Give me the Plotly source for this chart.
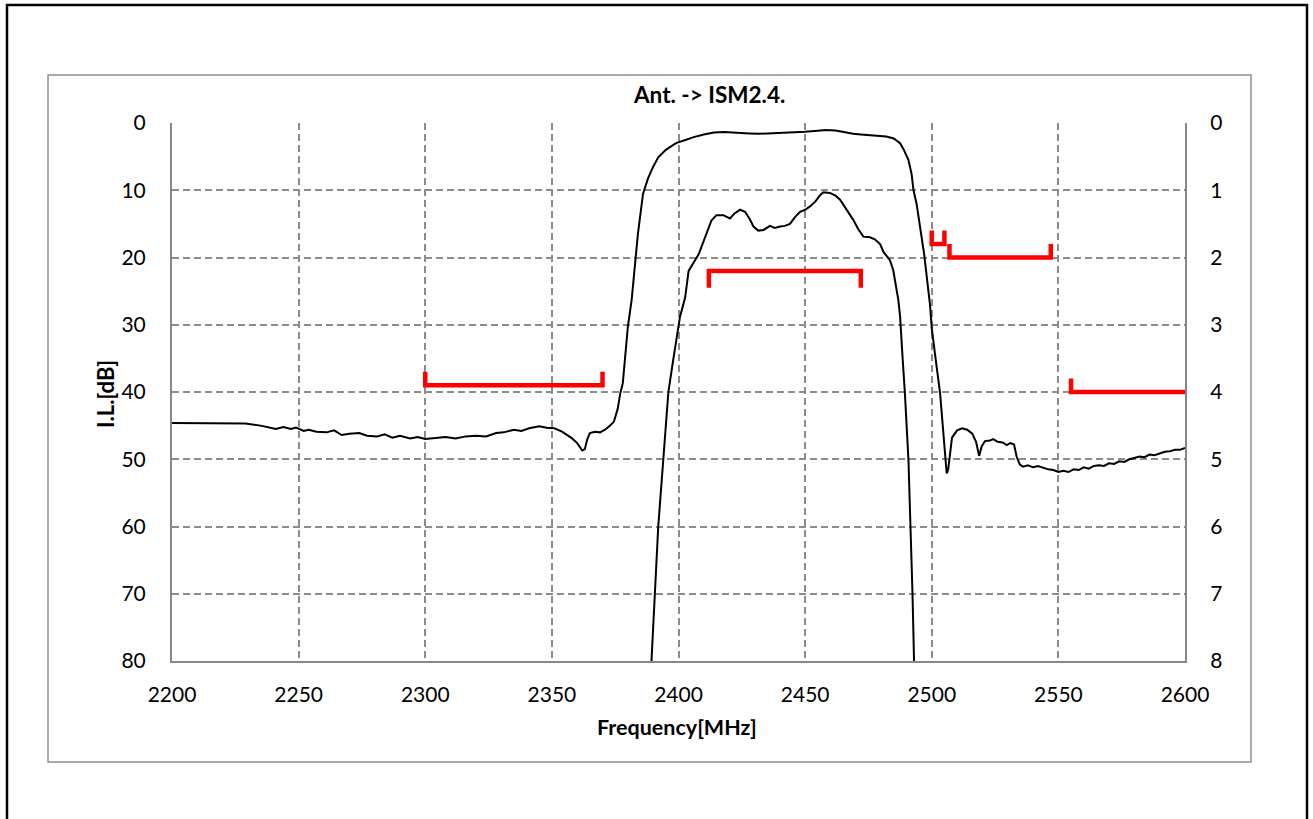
import plotly.graph_objects as go

# ---------------- data ----------------
# Curve 1 (left axis, attenuation [dB])
freq1 = [2200, 2210, 2220, 2229, 2235, 2241, 2244, 2247, 2249, 2252, 2254, 2257, 2261, 2264, 2267,
         2270, 2274, 2277, 2281, 2284, 2287, 2290, 2294, 2297, 2300, 2304, 2308, 2312, 2316, 2320,
         2324, 2328, 2331, 2335, 2338, 2341, 2345, 2348, 2351, 2354, 2356, 2358, 2360, 2362, 2363,
         2364, 2365, 2367, 2369, 2371, 2373, 2374.5, 2376, 2377, 2378, 2380, 2381.5, 2383, 2384,
         2386, 2388, 2390, 2392, 2395, 2399, 2403, 2406, 2410, 2414, 2418, 2423, 2428, 2432, 2436,
         2440, 2445, 2450, 2455, 2458, 2462, 2466, 2469, 2472, 2477, 2482, 2485, 2487.5, 2489,
         2490.8, 2492, 2492.8, 2494, 2496, 2497, 2499.3, 2500, 2501.5, 2503.3, 2505, 2505.9, 2506.5,
         2507.2, 2508, 2510, 2512, 2514, 2516, 2517.5, 2518.7, 2519.7, 2521, 2523, 2524.3, 2526,
         2528, 2529.6, 2531, 2532.5, 2533.5, 2534.8, 2536, 2538, 2540, 2542, 2544, 2546, 2548, 2550,
         2552, 2554, 2556, 2558, 2560, 2562, 2564, 2566, 2568, 2570, 2572, 2574, 2576, 2578, 2580,
         2582, 2584, 2586, 2588, 2590, 2592, 2594, 2596, 2598, 2600]
att1 = [44.6, 44.6, 44.7, 44.7, 45.0, 45.5, 45.2, 45.5, 45.3, 45.8, 45.6, 45.9, 46.0, 45.7, 46.4,
        46.2, 46.1, 46.5, 46.6, 46.3, 46.8, 46.5, 46.9, 46.7, 47.0, 46.8, 46.7, 46.9, 46.6, 46.5,
        46.6, 46.1, 46.0, 45.6, 45.8, 45.4, 45.1, 45.3, 45.4, 45.9, 46.4, 46.9, 47.6, 48.7, 48.5,
        47.0, 46.1, 45.9, 46.0, 45.6, 45.0, 44.4, 42.5, 40.2, 38.7, 30.3, 26.3, 20.5, 16.4,
        10.5, 8.2, 6.5, 5.1, 4.0, 3.0, 2.5, 2.1, 1.7, 1.4, 1.35, 1.4, 1.55, 1.6, 1.55,
        1.5, 1.45, 1.3, 1.15, 1.05, 1.1, 1.4, 1.6, 1.7, 1.8, 2.0, 2.3, 3.0, 4.0,
        5.5, 7.5, 10.0, 12.0, 17.4, 19.5, 27.0, 30.5, 35.0, 40.2, 48.0, 52.1, 51.5,
        49.1, 46.8, 45.7, 45.4, 45.6, 46.2, 47.4, 49.5, 48.1, 47.3, 47.2, 47.0, 47.4,
        47.5, 47.9, 47.6, 47.8, 49.6, 50.8, 51.1, 50.9, 51.2, 51.0, 51.3, 51.5, 51.6, 51.9,
        51.7, 51.9, 51.5, 51.6, 51.2, 51.4, 51.0, 50.9, 51.0, 50.6, 50.7, 50.3, 50.4, 50.0, 49.8,
        49.6, 49.7, 49.3, 49.4, 49.1, 48.9, 48.8, 48.6, 48.6, 48.3]

# Curve 2 (right axis, insertion loss [dB])
freq2 = [2388, 2389.4, 2390.7, 2392, 2394, 2396, 2398, 2400.6, 2402.6, 2404, 2408, 2411, 2413, 2415,
         2417.7, 2420.3, 2422, 2424.3, 2426.3, 2428, 2429.6, 2431.5, 2433.6, 2436.1, 2438, 2440.1,
         2442, 2444, 2446, 2448, 2450, 2451.9, 2454, 2456, 2457.2, 2459.8, 2462, 2463.8, 2466,
         2469, 2471, 2473, 2475.6, 2477.5, 2479.6, 2481, 2483.5, 2484.8, 2486.8, 2487.5, 2488.5,
         2489.4, 2490.8, 2491.7, 2492.4, 2493, 2493.6]
il2 = [9.0, 7.98, 7.0, 6.0, 5.0, 4.0, 3.5, 2.88, 2.6, 2.2, 1.95, 1.64, 1.45, 1.37,
       1.37, 1.42, 1.35, 1.29, 1.32, 1.42, 1.54, 1.6, 1.59, 1.53, 1.56, 1.54,
       1.53, 1.50, 1.40, 1.32, 1.29, 1.24, 1.17, 1.07, 1.03, 1.04, 1.08, 1.14, 1.26,
       1.44, 1.58, 1.69, 1.70, 1.73, 1.8, 1.92, 2.04, 2.19, 2.63, 2.88, 3.5,
       4.02, 5.01, 6.0, 7.0, 7.98, 9.0]

# Specification brackets (left-axis dB)
spec_freqs = [[2300, 2300, 2370, 2370],
              [2412, 2412, 2472, 2472],
              [2500, 2500, 2505, 2505],
              [2507, 2507, 2547, 2547],
              [2555, 2555, 2600]]
spec_levels = [[37, 39, 39, 37],
               [24.5, 22, 22, 24.5],
               [16, 18, 18, 16],
               [18, 20, 20, 18],
               [38, 40, 40]]

x_ticks = [2200, 2250, 2300, 2350, 2400, 2450, 2500, 2550, 2600]
y1_ticks = [0, 10, 20, 30, 40, 50, 60, 70, 80]
y2_ticks = [0, 1, 2, 3, 4, 5, 6, 7, 8]

title_text = "Ant. -> ISM2.4."
x_title = "Frequency[MHz]"
y_title = "I.L.[dB]"

# ---------------- layout geometry (pixels) ----------------
W, H = 1313, 819
L, R, T, B = 172, 1185, 123, 661
PW, PH = R - L, B - T


def px(xp):
    return (xp - L) / PW


def py(yp):
    return (B - yp) / PH


FONT = "Lato, 'Open Sans', sans-serif"
GRID = "#8c8c8c"
AXIS = "#878787"

fig = go.Figure()

fig.add_trace(go.Scatter(x=freq1, y=att1, mode="lines",
                         line=dict(color="black", width=2), showlegend=False, hoverinfo="skip"))
fig.add_trace(go.Scatter(x=freq2, y=il2, mode="lines", yaxis="y2",
                         line=dict(color="black", width=2), showlegend=False, hoverinfo="skip"))
for sx, sy in zip(spec_freqs, spec_levels):
    fig.add_trace(go.Scatter(x=sx, y=sy, mode="lines",
                             line=dict(color="#ff0000", width=4.5), showlegend=False,
                             hoverinfo="skip"))

tickfont = dict(family=FONT, size=21, color="black")

fig.update_layout(
    width=W, height=H,
    margin=dict(l=L, r=W - R, t=T, b=H - B, pad=0),
    paper_bgcolor="white", plot_bgcolor="white",
    xaxis=dict(range=[2200, 2600], tickvals=x_ticks, ticktext=[str(v) for v in x_ticks],
               showgrid=True, gridcolor=GRID, gridwidth=1.5, griddash="7px,4px",
               showline=True, linecolor=AXIS, linewidth=2, zeroline=False,
               ticks="", ticklabelstandoff=14, tickfont=tickfont),
    yaxis=dict(range=[80, 0], tickvals=y1_ticks, ticktext=[str(v) for v in y1_ticks],
               showgrid=True, gridcolor=GRID, gridwidth=1.5, griddash="7px,4px",
               showline=True, linecolor=AXIS, linewidth=2, zeroline=False,
               ticks="", ticklabelstandoff=20, tickfont=tickfont),
    yaxis2=dict(range=[8, 0], tickvals=y2_ticks, ticktext=[str(v) for v in y2_ticks],
                overlaying="y", side="right", showgrid=False,
                showline=True, linecolor=AXIS, linewidth=2, zeroline=False,
                ticks="", ticklabelstandoff=19, tickfont=tickfont),
    shapes=[
        dict(type="rect", xref="paper", yref="paper",
             x0=px(7), x1=px(1307), y0=py(5), y1=py(830),
             line=dict(color="black", width=2.5), fillcolor="rgba(0,0,0,0)", layer="above"),
        dict(type="rect", xref="paper", yref="paper",
             x0=px(48), x1=px(1251), y0=py(75), y1=py(762),
             line=dict(color="#8f8f8f", width=1.5), fillcolor="rgba(0,0,0,0)", layer="above"),
    ],
    annotations=[
        dict(text="<b>%s</b>" % title_text, xref="paper", yref="paper",
             x=px(709), y=py(94), showarrow=False, xanchor="center", yanchor="middle",
             font=dict(family=FONT, size=22.5, color="black")),
        dict(text="<b>%s</b>" % x_title, xref="paper", yref="paper",
             x=px(677), y=py(727), showarrow=False, xanchor="center", yanchor="middle",
             font=dict(family=FONT, size=21.5, color="black")),
        dict(text="<b>%s</b>" % y_title, xref="paper", yref="paper",
             x=px(105), y=py(394), showarrow=False, xanchor="center", yanchor="middle",
             textangle=-90, font=dict(family=FONT, size=22, color="black")),
    ],
)

fig.write_html("out.html")
